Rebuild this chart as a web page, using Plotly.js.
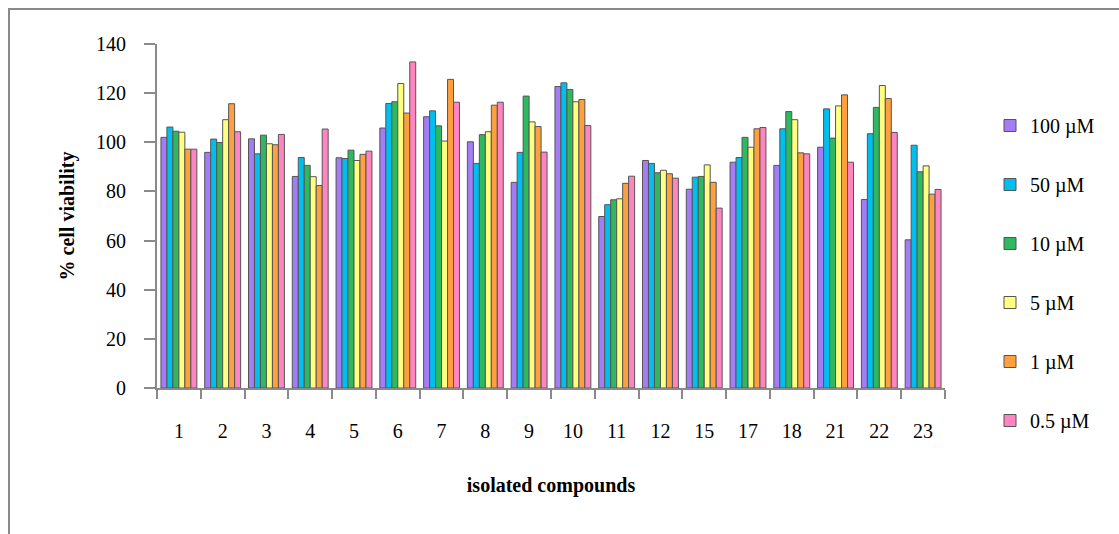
<!DOCTYPE html>
<html>
<head>
<meta charset="utf-8">
<script src="https://cdn.plot.ly/plotly-3.0.1.min.js"></script>
<style>
  html, body { margin: 0; padding: 0; background: #fff; }
  #wrap { position: relative; width: 1119px; height: 534px; overflow: hidden; }
  #chart { position: absolute; left: 0; top: 0; width: 1119px; height: 534px; }
  #frame { position: absolute; left: 8px; top: 8px; width: 1120px; height: 540px;
           border-top: 2px solid #8a8a8a; border-left: 2px solid #8a8a8a; pointer-events: none; }
</style>
</head>
<body>
<div id="wrap"><div id="chart"></div><div id="frame"></div></div>
<script>
const compounds = ["1","2","3","4","5","6","7","8","9","10","11","12","15","17","18","21","22","23"];
const seriesNames = ["100 \u00b5M","50 \u00b5M","10 \u00b5M","5 \u00b5M","1 \u00b5M","0.5 \u00b5M"];
const v100  = [102.0, 95.9, 101.4, 86.1, 93.7, 105.8, 110.4, 100.2, 83.7, 122.7, 69.8, 92.6, 80.9, 91.9, 90.6, 98.0, 76.7, 60.3];
const v50   = [106.2, 101.3, 95.3, 93.8, 93.4, 115.8, 112.8, 91.4, 95.9, 124.2, 74.6, 91.4, 85.8, 93.8, 105.5, 113.6, 103.5, 98.8];
const v10   = [104.5, 99.9, 102.9, 90.6, 96.8, 116.5, 106.7, 103.1, 118.8, 121.5, 76.6, 87.6, 86.1, 102.0, 112.5, 101.7, 114.2, 88.0];
const v5    = [104.1, 109.2, 99.4, 86.0, 92.6, 123.9, 100.5, 104.3, 108.3, 116.5, 77.0, 88.6, 90.8, 98.0, 109.2, 114.8, 123.1, 90.4];
const v1    = [97.2, 115.7, 99.0, 82.4, 95.1, 111.9, 125.6, 115.1, 106.4, 117.4, 83.3, 87.2, 83.7, 105.5, 95.7, 119.3, 117.8, 78.9];
const v05   = [97.2, 104.3, 103.2, 105.4, 96.4, 132.7, 116.3, 116.3, 96.0, 106.8, 86.2, 85.4, 73.2, 106.0, 95.3, 91.9, 104.0, 80.8];
const allValues = [v100, v50, v10, v5, v1, v05];
const colors = ["#A47CF5", "#00BFEF", "#2EB85F", "#FFFF80", "#FFA040", "#FF85C0"];

const traces = allValues.map((vals, i) => ({
  type: "bar",
  name: seriesNames[i],
  x: compounds,
  y: vals,
  legendgroup: "g" + i,
  marker: { color: colors[i], line: { color: "#555555", width: 1 } },
  hoverinfo: "x+y+name"
}));

const font = "Liberation Serif, Times New Roman, serif";
const layout = {
  width: 1119, height: 534,
  margin: { l: 157, r: 174, t: 44, b: 146 },
  paper_bgcolor: "rgba(0,0,0,0)",
  plot_bgcolor: "#ffffff",
  barmode: "group",
  bargap: 0.18,
  bargroupgap: 0,
  font: { family: font, size: 20, color: "#000" },
  xaxis: {
    type: "category",
    showline: true, linecolor: "#8a8a8a", linewidth: 2,
    ticks: "outside", tickson: "boundaries", ticklen: 9, tickwidth: 2, tickcolor: "#8a8a8a",
    showgrid: false, zeroline: false,
    tickfont: { family: font, size: 20, color: "#000" },
    ticklabelstandoff: 24,
    title: { text: "<b>isolated compounds</b>", font: { family: font, size: 20, color: "#000" }, standoff: 37 }
  },
  yaxis: {
    range: [0, 140], dtick: 20, tick0: 0,
    showline: true, linecolor: "#8a8a8a", linewidth: 2,
    ticks: "outside", ticklen: 11, tickwidth: 2, tickcolor: "#8a8a8a",
    showgrid: false, zeroline: false,
    tickfont: { family: font, size: 20, color: "#000" },
    ticklabelstandoff: 14,
    title: { text: "<b>% cell viability</b>", font: { family: font, size: 20, color: "#000" }, standoff: 16 }
  },
  showlegend: true,
  legend: {
    x: 990 / 1119, xref: "container", xanchor: "left",
    y: 1 - 106 / 534, yref: "container", yanchor: "top",
    traceorder: "grouped",
    tracegroupgap: 30,
    maxheight: 520,
    itemwidth: 30,
    font: { family: font, size: 20, color: "#000" },
    bgcolor: "rgba(0,0,0,0)"
  }
};

Plotly.newPlot("chart", traces, layout, { displayModeBar: false, staticPlot: true });
</script>
</body>
</html>
